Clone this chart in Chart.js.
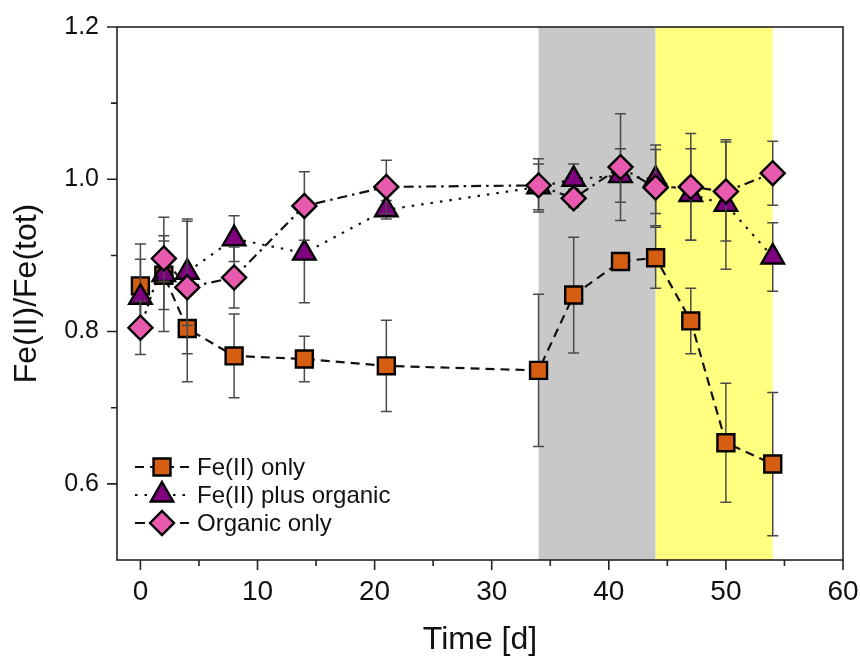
<!DOCTYPE html>
<html>
<head>
<meta charset="utf-8">
<script src="https://cdn.jsdelivr.net/npm/chart.js@4.4.1/dist/chart.umd.min.js"></script>
<style>
  body { margin: 0; background: #fff; }
  canvas { display: block; }
</style>
</head>
<body>
<canvas id="grafico" width="860" height="659"></canvas>
<script>
// dados
const days = [0, 2, 4, 8, 14, 21, 34, 37, 41, 44, 47, 50, 54];

const feOnly = [0.860, 0.874, 0.804, 0.768, 0.764, 0.755, 0.749, 0.848, 0.892, 0.897, 0.814, 0.654, 0.626];
const feOnlyErr = [0.055, 0.045, 0.070, 0.055, 0.030, 0.060, 0.100, 0.076, 0.006, 0.040, 0.043, 0.078, 0.094];

const fePlusOrganic = [0.845, 0.875, 0.878, 0.922, 0.903, 0.960, 0.990, 1.000, 1.005, 1.000, 0.980, 0.967, 0.898];
const fePlusOrganicErr = [0.050, 0.075, 0.070, 0.030, 0.065, 0.012, 0.030, 0.020, 0.035, 0.045, 0.060, 0.085, 0.045];

const organicOnly = [0.805, 0.896, 0.858, 0.871, 0.965, 0.990, 0.992, 0.975, 1.016, 0.989, 0.990, 0.984, 1.008];
const organicOnlyErr = [0.035, 0.030, 0.087, 0.040, 0.045, 0.035, 0.035, 0.012, 0.070, 0.050, 0.070, 0.065, 0.042];

const xMajorTicks = [0, 10, 20, 30, 40, 50, 60];
const xMinorTicks = [5, 15, 25, 35, 45, 55];
const yMajorTicks = [0.6, 0.8, 1.0, 1.2];
const yMinorTicks = [0.7, 0.9, 1.1];

const greyBand = [34, 44];
const yellowBand = [44, 54];

const fonte = "'Liberation Sans', Arial, sans-serif";

function toPoints(values) {
  return days.map((d, i) => ({ x: d, y: values[i] }));
}

// faixas de fundo
const bandsPlugin = {
  id: 'bands',
  beforeDatasetsDraw(chart) {
    const { ctx, chartArea, scales } = chart;
    const faixas = [[greyBand, '#C8C8C8'], [yellowBand, '#FFFF80']];
    ctx.save();
    faixas.forEach(([b, cor]) => {
      const x1 = scales.x.getPixelForValue(b[0]);
      const x2 = scales.x.getPixelForValue(b[1]);
      ctx.fillStyle = cor;
      ctx.fillRect(x1, chartArea.top, x2 - x1, chartArea.bottom - chartArea.top);
    });
    ctx.restore();
  }
};

// barras de erro, desenhadas antes de cada serie
const errorBarsPlugin = {
  id: 'errorBars',
  beforeDatasetDraw(chart, args) {
    const ds = chart.data.datasets[args.index];
    if (!ds.errors) return;
    const { ctx, scales } = chart;
    ctx.save();
    ctx.strokeStyle = '#4a4a4a';
    ctx.lineWidth = 1.5;
    ds.data.forEach((p, i) => {
      const x = scales.x.getPixelForValue(p.x);
      const yTop = scales.y.getPixelForValue(p.y + ds.errors[i]);
      const yBot = scales.y.getPixelForValue(p.y - ds.errors[i]);
      ctx.beginPath();
      ctx.moveTo(x, yTop); ctx.lineTo(x, yBot);
      ctx.moveTo(x - 5.5, yTop); ctx.lineTo(x + 5.5, yTop);
      ctx.moveTo(x - 5.5, yBot); ctx.lineTo(x + 5.5, yBot);
      ctx.stroke();
    });
    ctx.restore();
  }
};

// moldura, marcas dos eixos e legenda
const framePlugin = {
  id: 'frame',
  afterDraw(chart) {
    const { ctx, chartArea, scales } = chart;
    const { left, right, top, bottom } = chartArea;
    ctx.save();
    ctx.strokeStyle = '#222';
    ctx.lineWidth = 1.6;
    ctx.strokeRect(left, top, right - left, bottom - top);

    ctx.beginPath();
    xMajorTicks.forEach(v => {
      const x = scales.x.getPixelForValue(v);
      ctx.moveTo(x, bottom); ctx.lineTo(x, bottom + 10);
    });
    xMinorTicks.forEach(v => {
      const x = scales.x.getPixelForValue(v);
      ctx.moveTo(x, bottom); ctx.lineTo(x, bottom + 6);
    });
    yMajorTicks.forEach(v => {
      const y = scales.y.getPixelForValue(v);
      ctx.moveTo(left, y); ctx.lineTo(left - 10, y);
    });
    yMinorTicks.forEach(v => {
      const y = scales.y.getPixelForValue(v);
      ctx.moveTo(left, y); ctx.lineTo(left - 6, y);
    });
    ctx.stroke();

    // legenda
    const linhas = [467, 495, 523];
    [0, 1, 2].forEach((idx, k) => {
      const ds = chart.data.datasets[idx];
      const y = linhas[k];
      ctx.save();
      ctx.strokeStyle = ds.borderColor;
      ctx.lineWidth = ds.borderWidth;
      ctx.setLineDash(ds.borderDash);
      ctx.beginPath();
      ctx.moveTo(135, y); ctx.lineTo(189, y);
      ctx.stroke();
      ctx.restore();
      ctx.fillStyle = ds.pointBackgroundColor;
      ctx.strokeStyle = ds.pointBorderColor;
      ctx.lineWidth = ds.pointBorderWidth;
      Chart.helpers.drawPoint(ctx, {
        pointStyle: ds.pointStyle,
        radius: ds.pointRadius,
        borderWidth: ds.pointBorderWidth,
        rotation: 0
      }, 162, y);
      ctx.fillStyle = '#111';
      ctx.font = '24px ' + fonte;
      ctx.textBaseline = 'middle';
      ctx.textAlign = 'left';
      ctx.fillText(ds.label, 197, y + 1);
    });
    ctx.restore();
  }
};

function criarGrafico() {
  const ctx = document.getElementById('grafico').getContext('2d');

  new Chart(ctx, {
    type: 'line',
    data: {
      datasets: [
        {
          label: 'Fe(II) only',
          data: toPoints(feOnly),
          errors: feOnlyErr,
          borderColor: '#111',
          borderWidth: 2.2,
          borderDash: [9, 6],
          pointStyle: 'rect',
          pointRadius: 12,
          pointBackgroundColor: '#D55E12',
          pointBorderColor: '#000',
          pointBorderWidth: 2.4,
          order: 3
        },
        {
          label: 'Fe(II) plus organic',
          data: toPoints(fePlusOrganic),
          errors: fePlusOrganicErr,
          borderColor: '#111',
          borderWidth: 2.2,
          borderDash: [2.5, 7],
          pointStyle: 'triangle',
          pointRadius: 13,
          pointBackgroundColor: '#800080',
          pointBorderColor: '#000',
          pointBorderWidth: 2.4,
          order: 2
        },
        {
          label: 'Organic only',
          data: toPoints(organicOnly),
          errors: organicOnlyErr,
          borderColor: '#111',
          borderWidth: 2.2,
          borderDash: [10, 5, 2.5, 5],
          pointStyle: 'rectRot',
          pointRadius: 12,
          pointBackgroundColor: '#E85AAD',
          pointBorderColor: '#000',
          pointBorderWidth: 2.4,
          order: 1
        }
      ]
    },
    options: {
      responsive: false,
      animation: false,
      layout: { autoPadding: false, padding: { top: 27, right: 17, left: 0, bottom: 0 } },
      plugins: {
        legend: { display: false },
        tooltip: { enabled: false }
      },
      scales: {
        x: {
          type: 'linear',
          min: -2,
          max: 60,
          afterBuildTicks: s => { s.ticks = xMajorTicks.map(v => ({ value: v })); },
          afterFit: s => { s.height = 99; },
          grid: { display: false, drawTicks: true, tickLength: 15 },
          border: { display: false },
          ticks: {
            padding: 0,
            maxRotation: 0,
            color: '#111',
            font: { size: 28, family: fonte },
            callback: v => v
          },
          title: {
            display: true,
            text: 'Time [d]',
            color: '#111',
            font: { size: 32, family: fonte },
            padding: { top: 0, bottom: 0 }
          }
        },
        y: {
          min: 0.5,
          max: 1.2,
          afterBuildTicks: s => { s.ticks = yMajorTicks.map(v => ({ value: v })); },
          afterFit: s => { s.width = 117; },
          grid: { display: false, drawTicks: true, tickLength: 18 },
          border: { display: false },
          ticks: {
            padding: 0,
            color: '#111',
            font: { size: 25, family: fonte },
            callback: v => v.toFixed(1)
          },
          title: {
            display: true,
            text: 'Fe(II)/Fe(tot)',
            color: '#111',
            font: { size: 32, family: fonte },
            padding: { top: 8, bottom: 0 }
          }
        }
      }
    },
    plugins: [bandsPlugin, errorBarsPlugin, framePlugin]
  });
}

criarGrafico();
</script>
</body>
</html>
